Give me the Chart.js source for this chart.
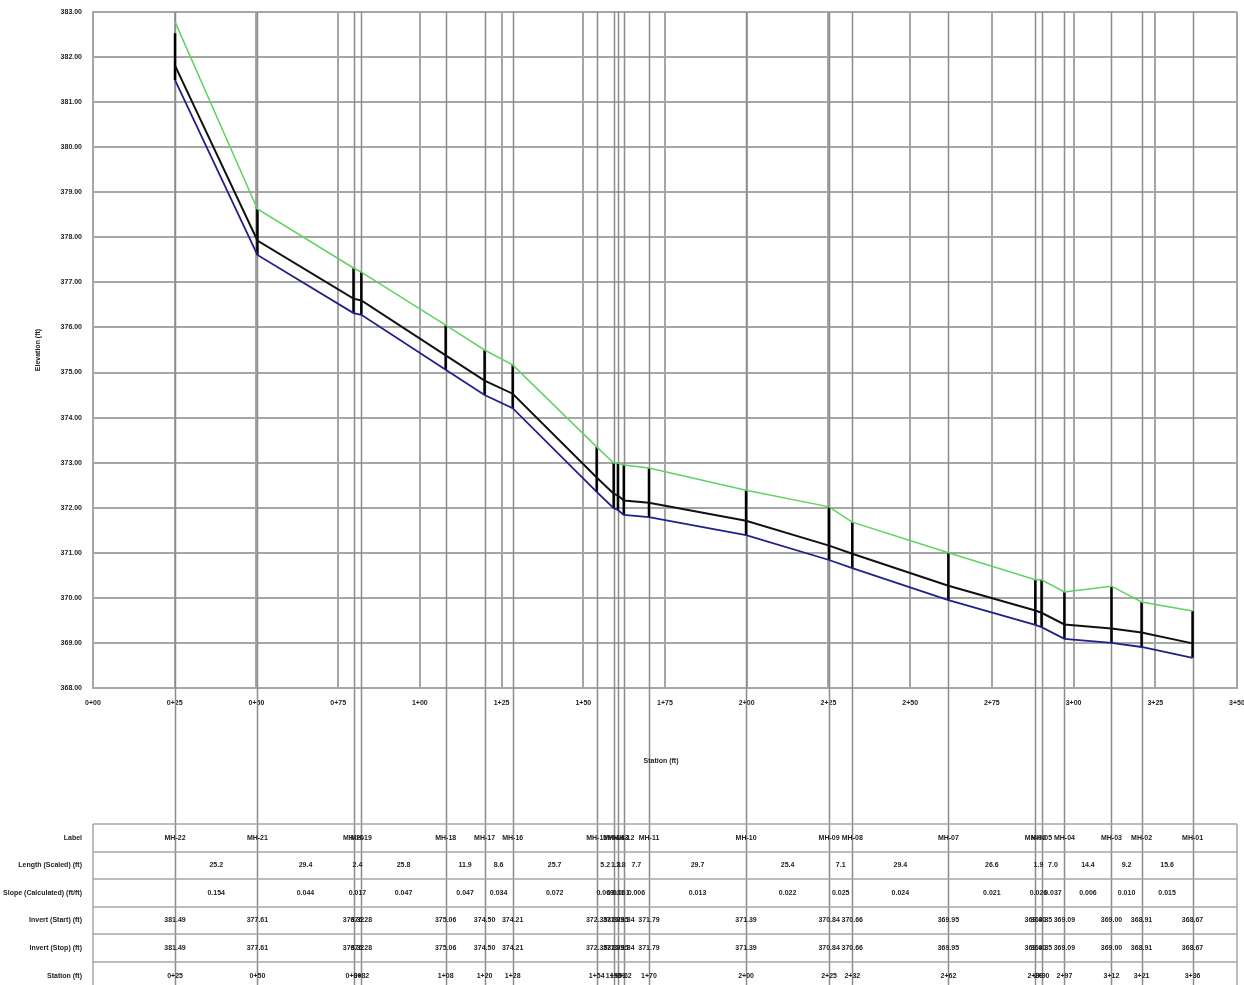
<!DOCTYPE html>
<html>
<head>
<meta charset="utf-8">
<script src="https://cdn.jsdelivr.net/npm/chart.js@4.4.1/dist/chart.umd.min.js"></script>
<style>
  html, body { margin: 0; padding: 0; background: #fff; }
  #wrap { width: 1244px; height: 985px; }
</style>
</head>
<body>
<div id="wrap"><canvas id="profile" width="1244" height="985"></canvas></div>
<script>
// node data (stations in ft, elevations in ft)
var nodeLabels = ["MH-22","MH-21","MH-20","MH-19","MH-18","MH-17","MH-16","MH-15","MH-14","MH-13","MH-12",
                  "MH-11","MH-10","MH-09","MH-08","MH-07","MH-06","MH-05","MH-04","MH-03","MH-02","MH-01"];
var stations = [25.1, 50.3, 79.7, 82.1, 107.9, 119.8, 128.4, 154.1, 159.3, 160.6, 162.4,
                170.1, 199.8, 225.2, 232.3, 261.7, 288.3, 290.2, 297.2, 311.6, 320.8, 336.4];
var groundElev = [382.78, 378.63, 377.32, 377.23, 376.05, 375.50, 375.17, 373.35, 372.99, 372.99, 372.95,
                  372.88, 372.39, 372.02, 371.68, 371.00, 370.40, 370.40, 370.13, 370.26, 369.91, 369.71];
var rimElev = [382.53, 378.63, 377.32, 377.23, 376.05, 375.50, 375.17, 373.35, 372.99, 372.99, 372.95,
               372.88, 372.39, 372.02, 371.68, 371.00, 370.40, 370.40, 370.13, 370.26, 369.91, 369.71];

// pipe data (one per link between consecutive nodes)
var invertStart = [381.49, 377.61, 376.32, 376.28, 375.06, 374.50, 374.21, 372.35, 371.99, 371.95, 371.84,
                   371.79, 371.39, 370.84, 370.66, 369.95, 369.40, 369.35, 369.09, 369.00, 368.91];
var invertStop = [377.61, 376.32, 376.28, 375.06, 374.50, 374.21, 372.35, 371.99, 371.95, 371.84, 371.79,
                  371.39, 370.84, 370.66, 369.95, 369.40, 369.35, 369.09, 369.00, 368.91, 368.67];
var pipeLength = [25.2, 29.4, 2.4, 25.8, 11.9, 8.6, 25.7, 5.2, 1.3, 1.8, 7.7,
                  29.7, 25.4, 7.1, 29.4, 26.6, 1.9, 7.0, 14.4, 9.2, 15.6];
var pipeSlope = [0.154, 0.044, 0.017, 0.047, 0.047, 0.034, 0.072, 0.069, 0.031, 0.061, 0.006,
                 0.013, 0.022, 0.025, 0.024, 0.021, 0.026, 0.037, 0.006, 0.010, 0.015];
var pipeRise = 0.32;

var rowTitles = ["Label", "Length (Scaled) (ft)", "Slope (Calculated) (ft/ft)",
                 "Invert (Start) (ft)", "Invert (Stop) (ft)", "Station (ft)"];

function fmtStation(v) {
    var s = Math.round(v);
    var r = s % 100;
    return Math.floor(s / 100) + "+" + (r < 10 ? "0" + r : r);
}

var invertPts = [], crownPts = [], groundPts = [], mhPts = [];
for (var i = 0; i < invertStart.length; i++) {
    invertPts.push({x: stations[i], y: invertStart[i]});
    invertPts.push({x: stations[i + 1], y: invertStop[i]});
    crownPts.push({x: stations[i], y: invertStart[i] + pipeRise});
    crownPts.push({x: stations[i + 1], y: invertStop[i] + pipeRise});
}
for (var j = 0; j < stations.length; j++) {
    groundPts.push({x: stations[j], y: groundElev[j]});
    var low;
    if (j == 0) low = invertStart[0];
    else if (j == stations.length - 1) low = invertStop[j - 1];
    else low = Math.min(invertStop[j - 1], invertStart[j]);
    mhPts.push({x: stations[j], y: low});
    mhPts.push({x: stations[j], y: rimElev[j]});
    mhPts.push({x: stations[j], y: null});
}

var gridColor = '#a6a6a6';
var smallFont = 'bold 7px "Liberation Sans", Arial, sans-serif';

var profileExtras = {
    id: 'profileExtras',
    beforeDatasetsDraw: function (chart) {
        var ctx = chart.ctx, xs = chart.scales.x, top = chart.chartArea.top;
        ctx.save();
        ctx.strokeStyle = '#8c8c8c';
        ctx.lineWidth = 1.5;
        for (var k = 0; k < stations.length; k++) {
            var px = Math.round(xs.getPixelForValue(stations[k])) + 0.5;
            ctx.beginPath();
            ctx.moveTo(px, top);
            ctx.lineTo(px, chart.height);
            ctx.stroke();
        }
        ctx.restore();
    },
    afterDraw: function (chart) {
        var ctx = chart.ctx, xs = chart.scales.x, area = chart.chartArea;
        ctx.save();
        ctx.fillStyle = '#222';
        ctx.font = smallFont;
        // axis titles
        ctx.textAlign = 'center';
        ctx.textBaseline = 'middle';
        ctx.fillText('Station (ft)', 661, 761);
        ctx.save();
        ctx.translate(38, 350);
        ctx.rotate(-Math.PI / 2);
        ctx.fillText('Elevation (ft)', 0, 0);
        ctx.restore();

        // table grid
        var rowY = [824, 852, 879, 907, 934, 962, 990];
        ctx.strokeStyle = gridColor;
        ctx.lineWidth = 1.5;
        for (var r = 0; r < rowY.length; r++) {
            ctx.beginPath();
            ctx.moveTo(area.left, rowY[r]);
            ctx.lineTo(area.right, rowY[r]);
            ctx.stroke();
        }
        ctx.beginPath();
        ctx.moveTo(area.left, rowY[0]); ctx.lineTo(area.left, chart.height);
        ctx.moveTo(area.right, rowY[0]); ctx.lineTo(area.right, chart.height);
        ctx.stroke();

        // row titles
        ctx.textAlign = 'right';
        for (var t = 0; t < rowTitles.length; t++) {
            ctx.fillText(rowTitles[t], 82, (rowY[t] + rowY[t + 1]) / 2);
        }

        // cells
        ctx.textAlign = 'center';
        var n = stations.length;
        for (var k = 0; k < n; k++) {
            var px = xs.getPixelForValue(stations[k]);
            var inS = k < n - 1 ? invertStart[k] : invertStop[k - 1];
            var inE = k > 0 ? invertStop[k - 1] : invertStart[0];
            ctx.fillText(nodeLabels[k], px, (rowY[0] + rowY[1]) / 2);
            ctx.fillText(inS.toFixed(2), px, (rowY[3] + rowY[4]) / 2);
            ctx.fillText(inE.toFixed(2), px, (rowY[4] + rowY[5]) / 2);
            ctx.fillText(fmtStation(stations[k]), px, (rowY[5] + rowY[6]) / 2);
        }
        for (var p = 0; p < pipeLength.length; p++) {
            var mid = xs.getPixelForValue((stations[p] + stations[p + 1]) / 2);
            ctx.fillText(pipeLength[p].toFixed(1), mid, (rowY[1] + rowY[2]) / 2);
            ctx.fillText(pipeSlope[p].toFixed(3), mid, (rowY[2] + rowY[3]) / 2);
        }
        ctx.restore();
    }
};

var ctx = document.getElementById('profile').getContext('2d');
var profileChart = new Chart(ctx, {
    type: 'scatter',
    data: {
        datasets: [
            { label: 'Ground', data: groundPts, borderColor: '#5fd35f', borderWidth: 1.5 },
            { label: 'Crown', data: crownPts, borderColor: '#111111', borderWidth: 2 },
            { label: 'Invert', data: invertPts, borderColor: '#20208a', borderWidth: 1.8 },
            { label: 'Structure', data: mhPts, borderColor: '#000000', borderWidth: 2.5, spanGaps: false }
        ]
    },
    options: {
        responsive: false,
        animation: false,
        showLine: true,
        elements: { point: { radius: 0 }, line: { tension: 0 } },
        layout: { padding: { left: 0, right: 7, top: 12, bottom: 0 } },
        plugins: { legend: { display: false }, tooltip: { enabled: false } },
        scales: {
            x: {
                type: 'linear', min: 0, max: 350,
                afterFit: function (s) { s.height = 297; s.paddingLeft = 0; s.paddingRight = 0; },
                grid: { color: gridColor, lineWidth: 2, drawTicks: false },
                border: { color: gridColor, width: 2 },
                ticks: {
                    stepSize: 25, padding: 11, color: '#222', maxRotation: 0,
                    font: { size: 7, weight: 'bold', family: '"Liberation Sans", Arial' },
                    callback: function (v) { return fmtStation(v); }
                }
            },
            y: {
                type: 'linear', min: 368, max: 383,
                afterFit: function (s) { s.width = 93; s.paddingTop = 0; s.paddingBottom = 0; },
                grid: { color: gridColor, lineWidth: 2, drawTicks: false },
                border: { color: gridColor, width: 2 },
                ticks: {
                    stepSize: 1, padding: 11, color: '#222',
                    font: { size: 7, weight: 'bold', family: '"Liberation Sans", Arial' },
                    callback: function (v) { return v.toFixed(2); }
                }
            }
        }
    },
    plugins: [profileExtras]
});
</script>
</body>
</html>
